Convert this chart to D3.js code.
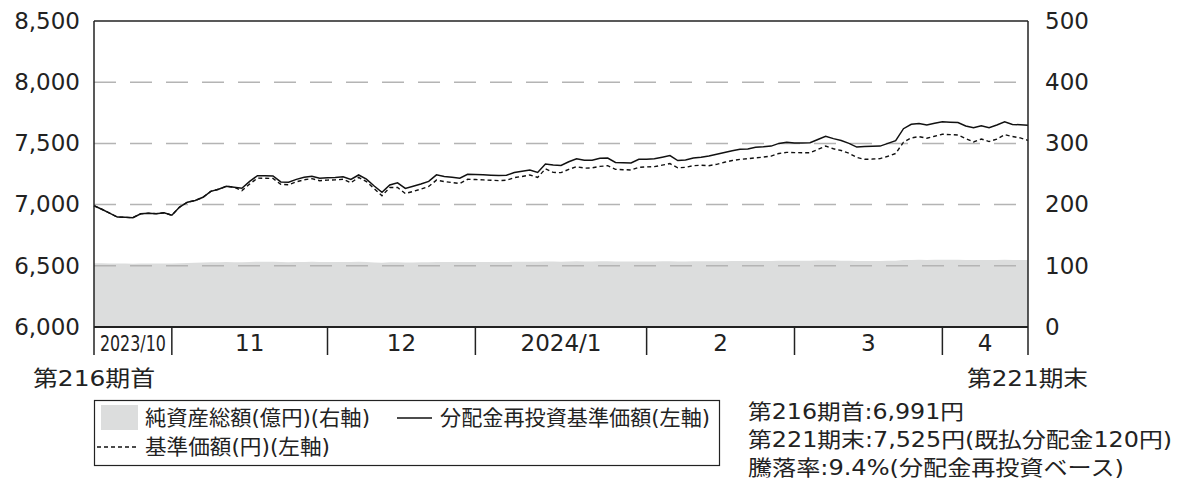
<!DOCTYPE html>
<html>
<head>
<meta charset="utf-8">
<script src="https://cdn.jsdelivr.net/npm/d3@7"></script>
<style>
  body { margin: 0; background: #fff; }
  text { font-family: "DejaVu Sans", "Noto Sans CJK JP", sans-serif; fill: #222; }
</style>
</head>
<body>
<div id="chart"></div>
<script>
// Data (one point per NAV day, index 0..120)
var monthStarts = [0, 10, 30, 49, 71, 90, 109, 120];
var monthLabels = ["2023/10", "11", "12", "2024/1", "2", "3", "4"];
var leftTicks = [6000, 6500, 7000, 7500, 8000, 8500];
var rightTicks = [0, 100, 200, 300, 400, 500];

// 分配金再投資基準価額 (left axis)
var reinvested = [
  6991, 6962, 6930, 6898, 6896, 6893, 6925, 6929, 6926, 6933,
  6913, 6980, 7020, 7034, 7060, 7108, 7125, 7150, 7142, 7134,
  7190, 7236, 7235, 7234, 7185, 7182, 7206, 7223, 7232, 7215,
  7220, 7222, 7228, 7205, 7242, 7208, 7152, 7100, 7160, 7178,
  7132, 7150, 7168, 7190, 7243, 7230, 7223, 7216, 7248, 7246,
  7243, 7240, 7237, 7240, 7262, 7272, 7283, 7263, 7331, 7323,
  7320, 7350, 7374, 7362, 7362, 7378, 7380, 7344, 7342, 7340,
  7370, 7371, 7374, 7387, 7400, 7360, 7365, 7381, 7387, 7397,
  7411, 7425, 7440, 7452, 7454, 7468, 7472, 7478, 7500, 7509,
  7503, 7503, 7505, 7532, 7558, 7539, 7524, 7500, 7470, 7474,
  7476, 7478, 7500, 7522, 7620, 7656, 7663, 7650, 7665, 7677,
  7673, 7670, 7642, 7628, 7645, 7628, 7650, 7676, 7655, 7652,
  7648
];

// 基準価額 (left axis)
var basePrice = [
  6991, 6962, 6930, 6898, 6896, 6893, 6925, 6929, 6926, 6933,
  6913, 6980, 7020, 7034, 7060, 7108, 7125, 7150, 7142, 7114,
  7168, 7216, 7215, 7214, 7165, 7162, 7186, 7203, 7212, 7195,
  7200, 7202, 7207, 7178, 7222, 7188, 7130, 7072, 7140, 7140,
  7090, 7108, 7126, 7148, 7200, 7188, 7180, 7172, 7207, 7205,
  7202, 7199, 7196, 7199, 7220, 7230, 7242, 7222, 7292, 7263,
  7261, 7288, 7310, 7298, 7300, 7312, 7318, 7288, 7285, 7283,
  7305, 7308, 7310, 7322, 7335, 7300, 7305, 7318, 7322, 7318,
  7329, 7346, 7360, 7370, 7375, 7382, 7388, 7396, 7418, 7427,
  7425, 7424, 7424, 7450, 7478, 7456, 7442, 7420, 7385, 7370,
  7372, 7376, 7395, 7418, 7510, 7545, 7555, 7542, 7558, 7575,
  7572, 7569, 7540, 7512, 7536, 7515, 7535, 7572, 7556, 7545,
  7525
];

// 純資産総額 億円 (right axis)
var netAssets = [
  104.2, 104.0, 103.8, 103.6, 103.6, 103.5, 103.8, 103.9, 103.8, 103.9,
  103.7, 104.3, 104.7, 104.9, 105.3, 105.7, 105.9, 106.1, 106.0, 105.9,
  106.2, 106.6, 106.6, 106.6, 106.1, 106.0, 106.2, 106.4, 106.5, 106.3,
  106.3, 106.3, 106.4, 106.1, 106.5, 106.1, 105.5, 105.0, 105.6, 105.8,
  105.3, 105.5, 105.7, 105.9, 106.4, 106.3, 106.2, 106.1, 106.4, 106.4,
  106.4, 106.3, 106.3, 106.3, 106.5, 106.6, 106.7, 106.5, 107.1, 107.0,
  106.8, 107.1, 107.3, 107.2, 107.2, 107.3, 107.4, 107.0, 107.0, 106.9,
  107.2, 107.2, 107.2, 107.4, 107.5, 107.1, 107.1, 107.3, 107.3, 107.3,
  107.5, 107.6, 107.7, 107.8, 107.8, 108.0, 108.0, 108.0, 108.2, 108.3,
  108.2, 108.2, 108.2, 108.5, 108.7, 108.5, 108.4, 108.1, 107.8, 107.8,
  107.8, 107.8, 108.1, 108.3, 109.3, 109.6, 109.7, 109.5, 109.7, 109.8,
  109.8, 109.7, 109.4, 109.3, 109.4, 109.3, 109.5, 109.7, 109.5, 109.5,
  109.4
];

var infoLines = [
  "第216期首:6,991円",
  "第221期末:7,525円(既払分配金120円)",
  "騰落率:9.4%(分配金再投資ベース)"
];

//Chart set up
var svgWidth = 1179;
var svgHeight = 481;
var plot = { left: 94, right: 1028, top: 21, bottom: 327, band: 355 };

var svg = d3.select("#chart")
  .append("svg")
  .attr("width", svgWidth)
  .attr("height", svgHeight);

var x = d3.scaleLinear()
  .domain([0, reinvested.length - 1])
  .range([plot.left, plot.right]);

var yLeft = d3.scaleLinear()
  .domain([6000, 8500])
  .range([plot.bottom, plot.top]);

var yRight = d3.scaleLinear()
  .domain([0, 500])
  .range([plot.bottom, plot.top]);

// net assets area
var area = d3.area()
  .x((d, i) => x(i))
  .y0(yRight(0))
  .y1(d => yRight(d));

svg.append("path")
  .datum(netAssets)
  .attr("d", area)
  .attr("fill", "#dcdddd");

// gridlines
svg.append("g")
  .selectAll("line")
  .data(leftTicks.filter(d => d > 6000 && d < 8500))
  .enter()
  .append("line")
  .attr("x1", plot.left)
  .attr("x2", plot.right)
  .attr("y1", d => yLeft(d))
  .attr("y2", d => yLeft(d))
  .attr("stroke", "#b4b4b4")
  .attr("stroke-width", 1.5)
  .attr("stroke-dasharray", "22,14");

// lines
var line = d3.line()
  .x((d, i) => x(i))
  .y(d => yLeft(d));

svg.append("path")
  .datum(basePrice)
  .attr("d", line)
  .attr("fill", "none")
  .attr("stroke", "#111")
  .attr("stroke-width", 1.4)
  .attr("stroke-dasharray", "4,3");

svg.append("path")
  .datum(reinvested)
  .attr("d", line)
  .attr("fill", "none")
  .attr("stroke", "#111")
  .attr("stroke-width", 1.5);

// frame
var frame = svg.append("g").attr("stroke", "#222").attr("stroke-width", 1.5);
frame.append("line").attr("x1", plot.left).attr("x2", plot.right).attr("y1", plot.top).attr("y2", plot.top);
frame.append("line").attr("x1", plot.left).attr("x2", plot.right).attr("y1", plot.bottom).attr("y2", plot.bottom).attr("stroke-width", 2);
frame.append("line").attr("x1", plot.left).attr("x2", plot.left).attr("y1", plot.top).attr("y2", plot.band);
frame.append("line").attr("x1", plot.right).attr("x2", plot.right).attr("y1", plot.top).attr("y2", plot.band);

// month separators and labels
frame.selectAll(".sep")
  .data(monthStarts.slice(1, -1))
  .enter()
  .append("line")
  .attr("class", "sep")
  .attr("x1", d => x(d))
  .attr("x2", d => x(d))
  .attr("y1", plot.bottom)
  .attr("y2", plot.band);

svg.selectAll(".month")
  .data(monthLabels)
  .enter()
  .append("text")
  .attr("class", "month")
  .attr("x", (d, i) => x((monthStarts[i] + monthStarts[i + 1]) / 2))
  .attr("y", 351)
  .attr("text-anchor", "middle")
  .attr("font-size", (d, i) => i === 0 ? "22px" : "23px")
  .each(function(d, i) {
    if (i === 0) {
      d3.select(this).attr("textLength", 66).attr("lengthAdjust", "spacingAndGlyphs");
    }
  })
  .text(d => d);

// y axes
var leftAxis = svg.append("g")
  .attr("transform", `translate(${plot.left}, 0)`)
  .call(d3.axisLeft(yLeft).tickValues(leftTicks).tickFormat(d3.format(",")).tickSize(0).tickPadding(14));

var rightAxis = svg.append("g")
  .attr("transform", `translate(${plot.right}, 0)`)
  .call(d3.axisRight(yRight).tickValues(rightTicks).tickSize(0).tickPadding(17));

[leftAxis, rightAxis].forEach(function(ax) {
  ax.select(".domain").remove();
  ax.selectAll("text")
    .attr("font-size", "23px")
    .attr("font-family", "\"DejaVu Sans\", \"Noto Sans CJK JP\", sans-serif")
    .attr("fill", "#222");
});

// period labels
svg.append("text")
  .attr("x", 33)
  .attr("y", 386)
  .attr("font-size", "22px")
  .attr("textLength", 122)
  .attr("lengthAdjust", "spacingAndGlyphs")
  .text("第216期首");

svg.append("text")
  .attr("x", 967)
  .attr("y", 386)
  .attr("font-size", "22px")
  .attr("textLength", 121)
  .attr("lengthAdjust", "spacingAndGlyphs")
  .text("第221期末");

// legend
var legend = svg.append("g");
legend.append("rect")
  .attr("x", 94.5).attr("y", 400.5)
  .attr("width", 625).attr("height", 65)
  .attr("fill", "none").attr("stroke", "#222").attr("stroke-width", 1.2);

legend.append("rect")
  .attr("x", 101).attr("y", 405)
  .attr("width", 37).attr("height", 25)
  .attr("fill", "#dcdddd");

legend.append("line")
  .attr("x1", 397).attr("x2", 432).attr("y1", 418).attr("y2", 418)
  .attr("stroke", "#111").attr("stroke-width", 1.3);

legend.append("line")
  .attr("x1", 97).attr("x2", 138).attr("y1", 447).attr("y2", 447)
  .attr("stroke", "#111").attr("stroke-width", 1.3)
  .attr("stroke-dasharray", "4,3");

var legendItems = [
  { text: "純資産総額(億円)(右軸)", x: 145, y: 425, w: 225 },
  { text: "分配金再投資基準価額(左軸)", x: 440, y: 425, w: 270 },
  { text: "基準価額(円)(左軸)", x: 145, y: 454, w: 185 }
];

legend.selectAll(".leg")
  .data(legendItems)
  .enter()
  .append("text")
  .attr("class", "leg")
  .attr("x", d => d.x)
  .attr("y", d => d.y)
  .attr("font-size", "21px")
  .attr("textLength", d => d.w)
  .attr("lengthAdjust", "spacingAndGlyphs")
  .text(d => d.text);

// info text
var infoWidths = [216, 424, 376];
svg.selectAll(".info")
  .data(infoLines)
  .enter()
  .append("text")
  .attr("class", "info")
  .attr("x", 748)
  .attr("y", (d, i) => 419 + i * 28)
  .attr("font-size", "21px")
  .attr("textLength", (d, i) => infoWidths[i])
  .attr("lengthAdjust", "spacingAndGlyphs")
  .text(d => d);
</script>
</body>
</html>
